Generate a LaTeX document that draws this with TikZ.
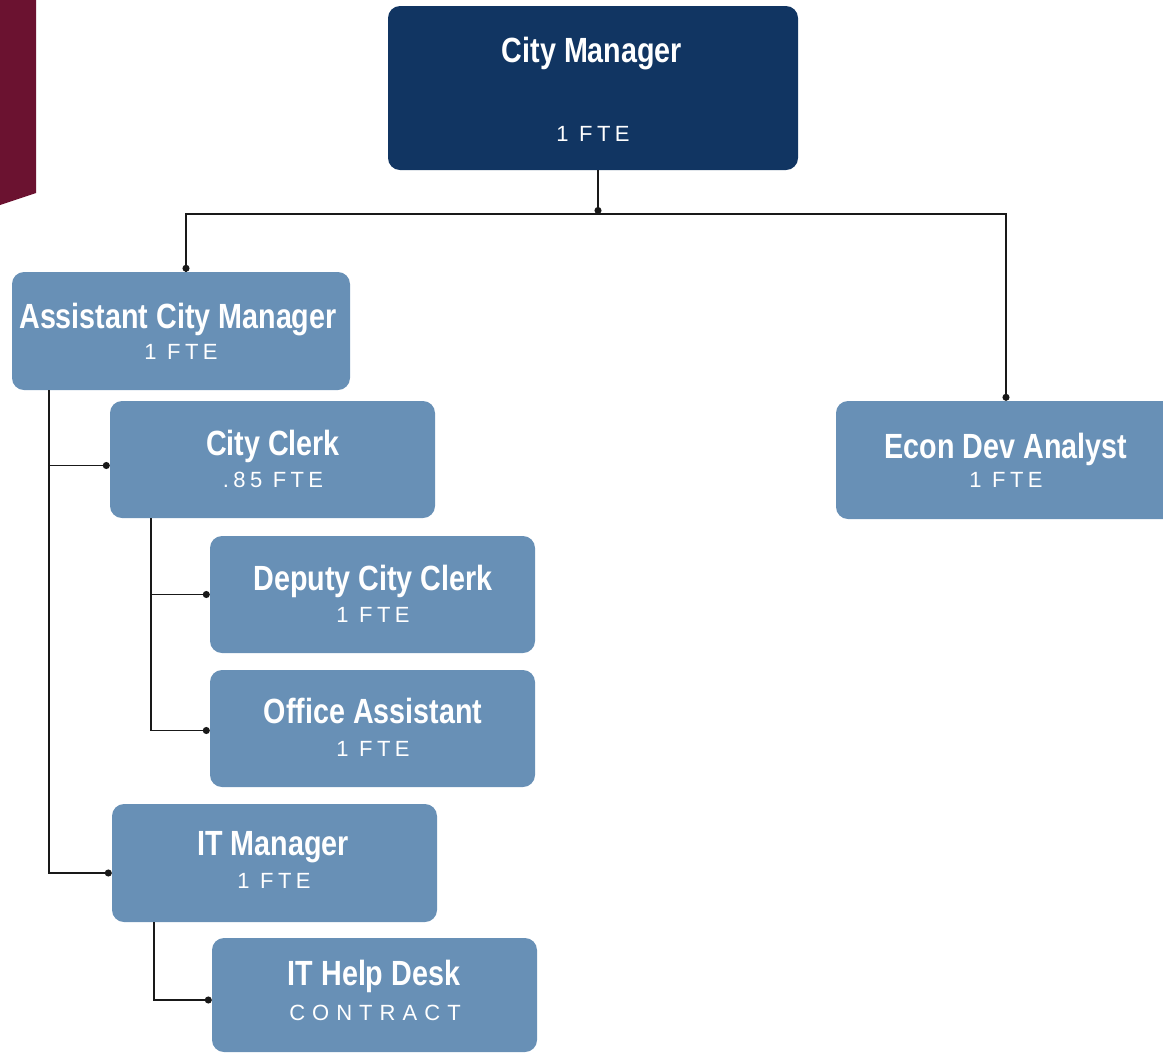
\documentclass[tikz,border=0pt]{standalone}
\usepackage{fontspec}
\setmainfont{Liberation Sans}
\newfontfamily\titlefont[FakeStretch=0.82]{Liberation Sans}
\newfontfamily\ftefont[LetterSpace=20]{Liberation Sans}
\newfontfamily\widefont[LetterSpace=32]{Liberation Sans}
\usetikzlibrary{arrows.meta}

\definecolor{navy}{RGB}{17,53,98}
\definecolor{steel}{RGB}{104,144,182}
\definecolor{maroon}{RGB}{107,18,48}
\definecolor{wire}{RGB}{25,25,25}

\tikzset{
  boss/.style={draw=none, fill=navy, rounded corners=12pt, inner sep=0pt},
  staff/.style={draw=none, fill=steel, rounded corners=12pt, inner sep=0pt},
  ttl/.style={anchor=base, text=white, inner sep=0pt, font=\titlefont\bfseries\fontsize{35}{40}\selectfont},
  fte/.style={anchor=base, text=white, inner sep=0pt, font=\ftefont\fontsize{22}{26}\selectfont},
  wide/.style={anchor=base, text=white, inner sep=0pt, font=\widefont\fontsize{22}{26}\selectfont},
  link/.style={draw=wire, line width=1.3pt, -{Circle[length=7pt]}},
  plain/.style={draw=wire, line width=1.3pt},
}

\begin{document}
\begin{tikzpicture}[x=1pt, y=-1pt]
\useasboundingbox (0,0) rectangle (1163,1053);

% corner banner
\fill[maroon] (0,0) -- (36,0) -- (36,193) -- (0,205) -- cycle;

% boxes
\node[boss,  minimum width=410pt, minimum height=164pt] (cm)    at (593,88)    {};
\node[staff, minimum width=338pt, minimum height=118pt] (acm)   at (181,331)   {};
\node[staff, minimum width=325pt, minimum height=117pt] (clerk) at (272.5,459.5) {};
\node[staff, minimum width=325pt, minimum height=117pt] (dep)   at (372.5,594.5) {};
\node[staff, minimum width=325pt, minimum height=117pt] (office) at (372.5,728.5) {};
\node[staff, minimum width=325pt, minimum height=118pt] (itm)   at (274.5,863) {};
\node[staff, minimum width=325pt, minimum height=114pt] (help)  at (374.5,995) {};
\node[staff, minimum width=340pt, minimum height=118pt] (econ)  at (1006,460)  {};

% texts
\node[ttl] (cmT)  at (592,62)  {City Manager};
\node[fte] (cmF)  at (593,141) {1 FTE};
\node[ttl] (acmT) at (178,328) {Assistant City Manager};
\node[fte] (acmF) at (181,359) {1 FTE};
\node[ttl] (clerkT) at (273,455) {City Clerk};
\node[fte] (clerkF) at (273,487) {.85 FTE};
\node[ttl] (depT) at (373,590) {Deputy City Clerk};
\node[fte] (depF) at (373,622) {1 FTE};
\node[ttl] (officeT) at (373,723) {Office Assistant};
\node[fte] (officeF) at (373,756) {1 FTE};
\node[ttl] (itmT) at (273,855) {IT Manager};
\node[fte] (itmF) at (274,888) {1 FTE};
\node[ttl] (helpT) at (374,985) {IT Help Desk};
\node[wide] (helpF) at (375,1020) {CONTRACT};
\node[ttl] (econT) at (1006,458) {Econ Dev Analyst};
\node[fte] (econF) at (1006,487) {1 FTE};

% wiring
\coordinate (bus) at (598,214);
\coordinate (spineA) at (49,0);
\coordinate (spineB) at (151,0);
\coordinate (spineC) at (154,0);

\draw[link] (bus |- cm.south) -- (bus);
\draw[plain] (bus) -| ([xshift=5pt]acm.north);
\draw[link] ([xshift=5pt,yshift=1pt]acm.north |- bus) -- ([xshift=5pt]acm.north);
\draw[link] (bus) -| (econ.north);

\draw[link] (spineA |- acm.south) |- ([yshift=-6pt]clerk.west);
\draw[link] (spineA |- acm.south) |- ([yshift=-10pt]itm.west);

\draw[link] (spineB |- clerk.south) |- (dep.west);
\draw[link] (spineB |- clerk.south) |- ([yshift=-2pt]office.west);

\draw[link] (spineC |- itm.south) |- ([yshift=-5pt]help.west);
\end{tikzpicture}
\end{document}
